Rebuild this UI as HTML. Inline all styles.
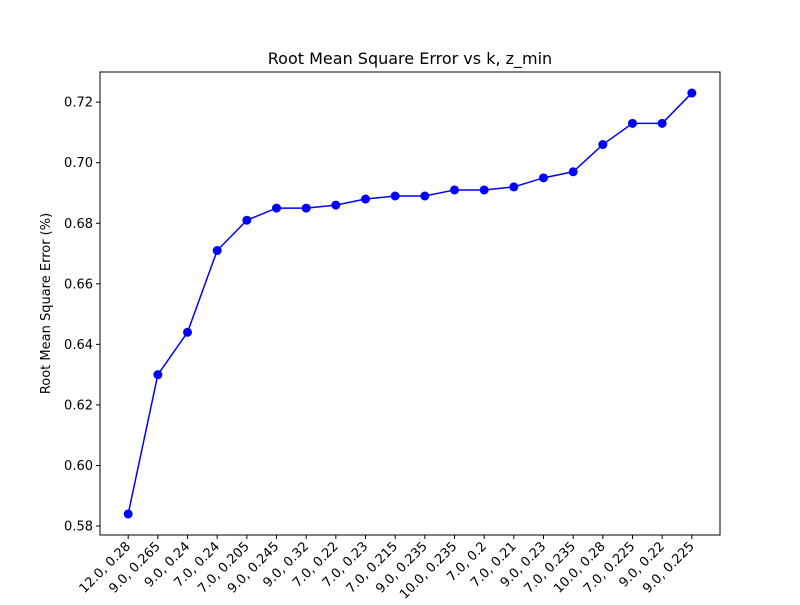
<!DOCTYPE html>
<html><head><meta charset="utf-8"><style>body{margin:0;background:#fff}</style></head>
<body>
<svg id="c" width="800" height="600" xmlns="http://www.w3.org/2000/svg" font-family="'DejaVu Sans','Liberation Sans',sans-serif">
<rect width="800" height="600" fill="#fff"/>
<text x="410" y="64" font-size="16" text-anchor="middle">Root Mean Square Error vs k, z_min</text>
<text transform="translate(50,303.5) rotate(-90)" font-size="13" text-anchor="middle">Root Mean Square Error (%)</text>
<g id="plot"></g>
</svg>
<script>
const categories=["12.0, 0.28","9.0, 0.265","9.0, 0.24","7.0, 0.24","7.0, 0.205","9.0, 0.245","9.0, 0.32","7.0, 0.22","7.0, 0.23","7.0, 0.215","9.0, 0.235","10.0, 0.235","7.0, 0.2","7.0, 0.21","9.0, 0.23","7.0, 0.235","10.0, 0.28","7.0, 0.225","9.0, 0.22","9.0, 0.225"];
const rmse=[0.584,0.630,0.644,0.671,0.681,0.685,0.685,0.686,0.688,0.689,0.689,0.691,0.691,0.692,0.695,0.697,0.706,0.713,0.713,0.723];
const yTicks=[0.58,0.60,0.62,0.64,0.66,0.68,0.70,0.72];
const L=100,R=720,T=72,B=535;
const n=categories.length;
const xmin=-0.05*(n-1)/0.9*0.9/ (1) ; // computed below
const pad=(n-1)*0.05;
const x0=-pad,x1=n-1+pad;
const vmin=Math.min(...rmse),vmax=Math.max(...rmse);
const yp=(vmax-vmin)*0.05;
const y0=vmin-yp,y1=vmax+yp;
const X=i=>L+(i-x0)/(x1-x0)*(R-L);
const Y=v=>B-(v-y0)/(y1-y0)*(B-T);
const g=document.getElementById('plot');
const NS='http://www.w3.org/2000/svg';
function mk(t,a){const e=document.createElementNS(NS,t);for(const k in a)e.setAttribute(k,a[k]);g.appendChild(e);return e;}
yTicks.forEach(v=>{
  const t=mk('line',{x1:L-4,x2:L,y1:Y(v),y2:Y(v),stroke:'#000'});
  
  
  const l=mk('text',{x:L-7,y:Y(v)+4.5,'font-size':13,'text-anchor':'end'});
  l.textContent=v.toFixed(2);
  
  
});
categories.forEach((c,i)=>{
  const x=X(i);
  const t=mk('line',{x1:x,x2:x,y1:B,y2:B+4,stroke:'#000'});
  
  
  const l=mk('text',{x:0,y:0,'font-size':13,'text-anchor':'end',transform:`translate(${x+3},${B+12}) rotate(-45)`});
  l.textContent=c;
  
  
});
const line=mk('polyline',{points:rmse.map((v,i)=>X(i)+','+Y(v)).join(' '),fill:'none',stroke:'#0000ff','stroke-width':1.5});


rmse.forEach((v,i)=>{
  const p=mk('circle',{cx:X(i),cy:Y(v),r:4.5,fill:'#0000ff'});
  
  
});
const f=mk('rect',{x:L,y:T,width:R-L,height:B-T,fill:'none',stroke:'#000','stroke-width':1});


</script>
</body></html>
